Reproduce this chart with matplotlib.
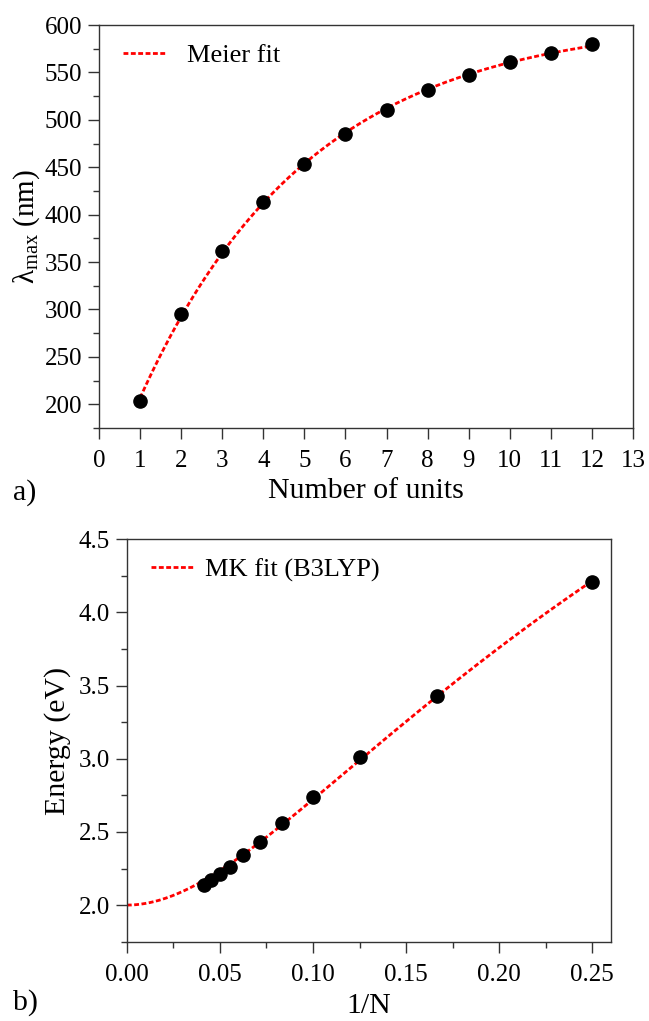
import numpy as np
import matplotlib
matplotlib.use('Agg')
import matplotlib.pyplot as plt
from matplotlib.ticker import MultipleLocator

plt.rcParams['font.family'] = ['Liberation Serif', 'DejaVu Serif']
plt.rcParams['mathtext.fontset'] = 'custom'
plt.rcParams['mathtext.rm'] = 'Liberation Serif'
plt.rcParams['axes.linewidth'] = 1.0

# absorption maxima vs chain length
n_units = [1, 2, 3, 4, 5, 6, 7, 8, 9, 10, 11, 12]
lambda_max = [204, 295, 362, 413, 453, 485, 510, 531, 547, 561, 571, 580]

# excitation energies (B3LYP) vs 1/N
n_chain = [4, 6, 8, 10, 12, 14, 16, 18, 20, 22, 24]
energy_ev = [4.21, 3.43, 3.01, 2.74, 2.56, 2.43, 2.34, 2.26, 2.21, 2.17, 2.14]
e_inf = 2.0  # infinite-chain limit of the MK fit

N = np.array(n_units, dtype=float)
lam = np.array(lambda_max, dtype=float)
inv_n = 1.0 / np.array(n_chain, dtype=float)
E = np.array(energy_ev)


# Meier: lam(N) = lam_inf - (lam_inf - lam_1) exp(-b (N-1)), grid over b
def meier_fit(x, y):
    best = None
    for b in np.linspace(0.05, 1.5, 600):
        e = np.exp(-b * (x - 1))
        A = np.column_stack([1 - e, e])
        coef, *_ = np.linalg.lstsq(A, y, rcond=None)
        r = np.sum((A @ coef - y) ** 2)
        if best is None or r < best[0]:
            best = (r, b, coef)
    _, b, (l_inf, l_1) = best
    return lambda xx: l_inf - (l_inf - l_1) * np.exp(-b * (xx - 1))


# Kuhn-type: E^2 = E_inf^2 + B (cos(pi / (m N + 1)) - 1), N = 1/x
def mk_fit(x, y, e0):
    best = None
    for m in np.linspace(0.2, 2.0, 400):
        c = np.cos(np.pi * x / (m + x)) - 1
        b = np.sum(c * (y ** 2 - e0 ** 2)) / np.sum(c * c)
        r = np.sum((np.sqrt(np.clip(e0 ** 2 + b * c, 0, None)) - y) ** 2)
        if best is None or r < best[0]:
            best = (r, m, b)
    _, m, b = best
    return lambda xx: np.sqrt(e0 ** 2 + b * (np.cos(np.pi * xx / (m + xx)) - 1))


meier = meier_fit(N, lam)
mk = mk_fit(inv_n, E, e_inf)

fig = plt.figure(figsize=(6.49, 10.21), dpi=100)
ax1 = fig.add_axes([0.1525, 0.5808, 0.8228, 0.3947])
ax2 = fig.add_axes([0.1954, 0.0777, 0.746, 0.3941])

fit_style = dict(color='red', lw=2.0, ls=(0, (1.75, 0.9)))
dot_style = dict(color='black', marker='o', ms=9.5, ls='none', zorder=3)

# a) lambda_max vs number of units
nn = np.linspace(1, 12, 300)
ax1.plot(nn, meier(nn), label='Meier fit', **fit_style)
ax1.plot(N, lam, **dot_style)
ax1.set_xlim(0, 13)
ax1.set_ylim(175, 600)
ax1.xaxis.set_major_locator(MultipleLocator(1))
ax1.yaxis.set_major_locator(MultipleLocator(50))
ax1.yaxis.set_minor_locator(MultipleLocator(25))
ax1.set_xlabel('Number of units', fontsize=21.5, labelpad=4)
ax1.set_ylabel('λ$_{\\mathrm{max}}$ (nm)', fontsize=21, labelpad=2)
ax1.legend(loc='upper left', bbox_to_anchor=(0.01, 1.0), frameon=False,
           fontsize=19, handlelength=1.6, handletextpad=0.85, borderaxespad=0.3)

# b) energy vs 1/N
xx = np.linspace(0, inv_n.max(), 300)
ax2.plot(xx, mk(xx), label='MK fit (B3LYP)', **fit_style)
ax2.plot(inv_n, E, **dot_style)
ax2.set_xlim(0, 0.26)
ax2.set_ylim(1.75, 4.5)
ax2.xaxis.set_major_locator(MultipleLocator(0.05))
ax2.xaxis.set_minor_locator(MultipleLocator(0.025))
ax2.yaxis.set_major_locator(MultipleLocator(0.5))
ax2.yaxis.set_minor_locator(MultipleLocator(0.25))
ax2.xaxis.set_major_formatter(plt.FormatStrFormatter('%.2f'))
ax2.yaxis.set_major_formatter(plt.FormatStrFormatter('%.1f'))
ax2.set_xlabel('1/N', fontsize=21.5, labelpad=5)
ax2.set_ylabel('Energy (eV)', fontsize=21.5, labelpad=6)
ax2.legend(loc='upper left', bbox_to_anchor=(0.011, 1.0), frameon=False,
           fontsize=19, handlelength=1.6, handletextpad=0.45, borderaxespad=0.3)

for ax in (ax1, ax2):
    ax.tick_params(which='major', direction='out', length=8, width=1.0,
                   labelsize=18, color='#333333')
    ax.tick_params(which='minor', direction='out', length=4.5, width=1.0,
                   color='#333333')
    ax.tick_params(axis='x', which='major', pad=8)
    ax.tick_params(axis='y', which='major', pad=4)
    for s in ax.spines.values():
        s.set_color('#333333')

fig.text(0.02, 1 - 493 / 1021, 'a)', fontsize=21.5, va='center', ha='left')
fig.text(0.02, 1 - 1003 / 1021, 'b)', fontsize=21.5, va='center', ha='left')

fig.savefig('out.png', dpi=100)
